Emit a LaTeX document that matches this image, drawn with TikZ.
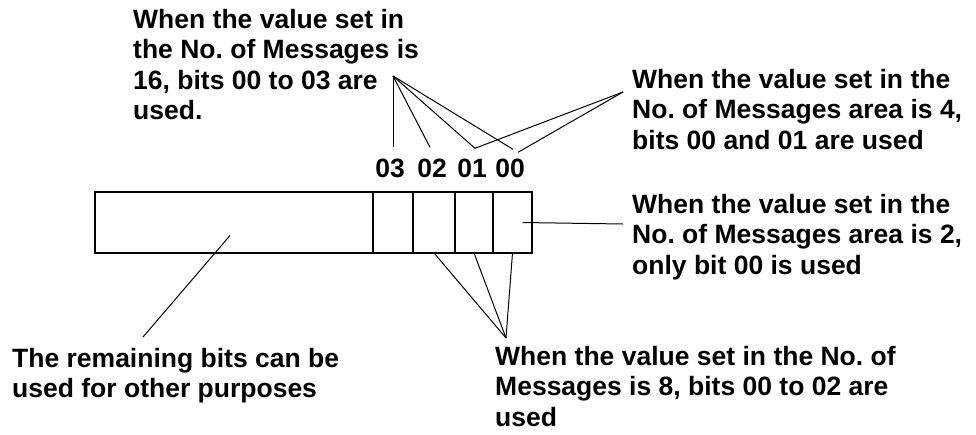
\documentclass[tikz,border=0pt]{standalone}
\usepackage{fontspec}
\setmainfont{Liberation Sans}
\usepackage{tikz}
\usetikzlibrary{positioning}
\frenchspacing

\tikzset{
    note/.style={align=left, anchor=north west, inner sep=0pt, text=black,
        font=\bfseries\fontsize{26.5}{30.5}\selectfont},
    bitno/.style={anchor=base, inner sep=0pt, font=\bfseries\fontsize{26.5}{30.5}\selectfont},
    cell/.style={draw, line width=2pt, minimum height=61pt, inner sep=0pt, outer sep=0pt},
    lead/.style={line width=1pt}
}

\begin{document}
\begin{tikzpicture}[x=1pt, y=-1pt]
    \useasboundingbox (0,0) rectangle (976,434);

    % Register with the four low bits
    \node[cell, minimum width=278pt, anchor=north west] (rest) at (95,192) {};
    \node[cell, minimum width=40pt, right=0pt of rest] (c3) {};
    \node[cell, minimum width=42pt, right=0pt of c3] (c2) {};
    \node[cell, minimum width=38pt, right=0pt of c2] (c1) {};
    \node[cell, minimum width=39pt, right=0pt of c1] (c0) {};

    % Bit numbers
    \node[bitno] (l3) at (390,177) {03};
    \node[bitno] (l2) at (432,177) {02};
    \node[bitno] (l1) at (472,177) {01};
    \node[bitno] (l0) at (510,177) {00};

    % Notes
    \node[note] (n16) at (133,9) {When the value set in\\the No. of Messages is\\16, bits 00 to 03 are\\used.};
    \node[note] (n4) at (632,69) {When the value set in the\\No. of Messages area is 4,\\bits 00 and 01 are used};
    \node[note] (n2) at (632,194) {When the value set in the\\No. of Messages area is 2,\\only bit 00 is used};
    \node[note] (n8) at (495,346) {When the value set in the No. of\\Messages is 8, bits 00 to 02 are\\used};
    \node[note] (nrest) at (12,348) {The remaining bits can be\\used for other purposes};

    % Leader lines
    \coordinate (apex16) at (393,76);
    \coordinate (apex4) at (623,92);
    \coordinate (apex8) at (506,338);
    \coordinate (end2) at (623,224);
    \coordinate (endrest) at (143,337);

    \draw[lead] (apex16) -- ([xshift=3pt,yshift=11pt]l3.north);
    \draw[lead] (apex16) -- ([xshift=-2pt,yshift=11pt]l2.north);
    \draw[lead] (apex16) -- ([xshift=3pt,yshift=10pt]l1.north);
    \draw[lead] (apex16) -- ([xshift=3pt,yshift=9pt]l0.north);

    \draw[lead] (apex4) -- ([xshift=3pt,yshift=10pt]l1.north);
    \draw[lead] (apex4) -- ([xshift=8pt,yshift=6pt]l0.north);

    \draw[lead] ([xshift=10pt]c0.center) -- (end2);

    \draw[lead] (c2.south) -- (apex8);
    \draw[lead] (c1.south) -- (apex8);
    \draw[lead] (c0.south) -- (apex8);

    \draw[lead] ([xshift=-4pt,yshift=-13pt]rest.center) -- (endrest);
\end{tikzpicture}
\end{document}
